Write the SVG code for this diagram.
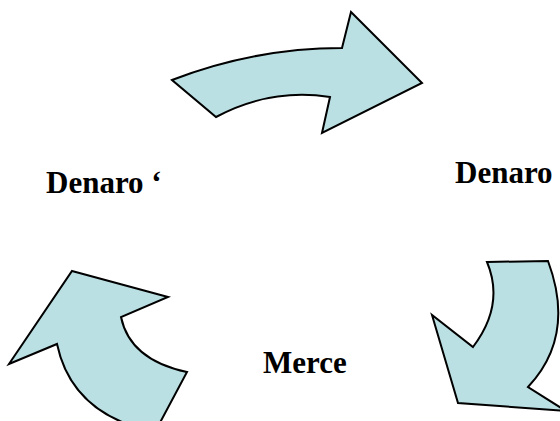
<svg xmlns="http://www.w3.org/2000/svg" width="560" height="421" viewBox="0 0 560 421">
<style>
.arrow{fill:#bbe0e3;stroke:#000;stroke-width:2;stroke-linejoin:miter}
.lbl{font-family:"Liberation Serif","Times New Roman",serif;font-weight:bold;font-size:31px;fill:#000}
</style>
<rect width="560" height="421" fill="#fff"/>
<g id="connectors">
<path id="arrow-top" class="arrow" d="M172,80 Q255,48 342,48 L351,12 L422,83 L322,133 L330,97 Q270,88 216,117 Z"/>
<path id="arrow-right" class="arrow" d="M487,262 L548,261 Q576,336 528,387 L566,411 L458,403 L432,315 L473,347 Q505,305 487,262 Z"/>
<path id="arrow-left" class="arrow" d="M72,271 L168,297 L121,317 Q130,360 187,372 L155,432 Q72,415 57,344 L9,364 Z"/>
</g>
<g id="node-denaro-prime"><text class="lbl" x="46" y="193">Denaro ‘</text></g>
<g id="node-denaro"><text class="lbl" x="455" y="183">Denaro</text></g>
<g id="node-merce"><text class="lbl" x="263" y="373">Merce</text></g>
</svg>
